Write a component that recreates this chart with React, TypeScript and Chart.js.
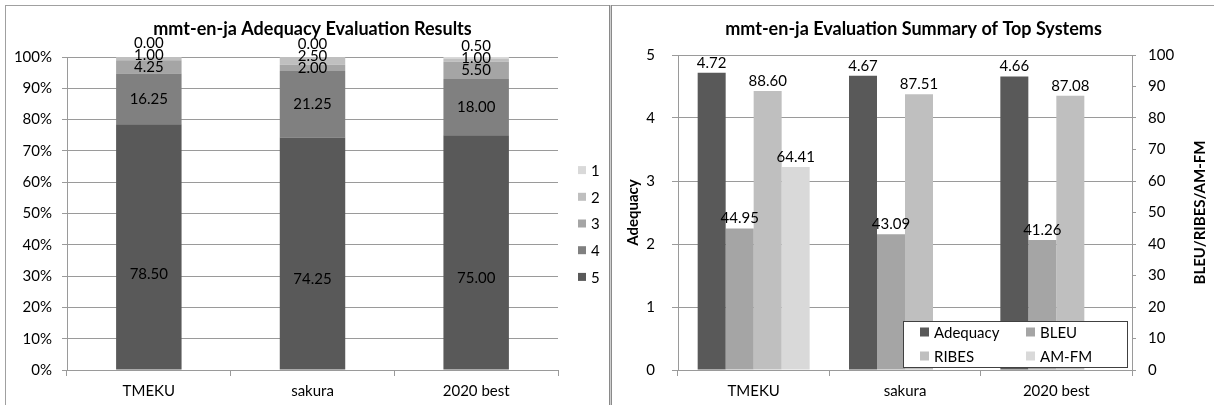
import React, { useEffect, useRef } from "react";
import { Chart, registerables } from "chart.js";

Chart.register(...registerables);

// ---------- data ----------
const systems = ["TMEKU", "sakura", "2020 best"];

// left chart: adequacy grade distribution (percent)
const grade5 = [78.5, 74.25, 75.0];
const grade4 = [16.25, 21.25, 18.0];
const grade3 = [4.25, 2.0, 5.5];
const grade2 = [1.0, 2.5, 1.0];
const grade1 = [0.0, 0.0, 0.5];
const percentTicks = [0, 10, 20, 30, 40, 50, 60, 70, 80, 90, 100];

// right chart: summary of top systems
const adequacy = [4.72, 4.67, 4.66];
const bleu = [44.95, 43.09, 41.26];
const ribes = [88.6, 87.51, 87.08];
const amfm = [64.41, null, null];
const adequacyTicks = [0, 1, 2, 3, 4, 5];
const scoreTicks = [0, 10, 20, 30, 40, 50, 60, 70, 80, 90, 100];

const leftTitle = "mmt-en-ja Adequacy Evaluation Results";
const rightTitle = "mmt-en-ja Evaluation Summary of Top Systems";

// ---------- style ----------
const FONT = "Lato, 'Open Sans', sans-serif";
const GRID = "#9a9a9a";
const C5 = "#595959";
const C4 = "#808080";
const C3 = "#a5a5a5";
const C2 = "#bfbfbf";
const C1 = "#d9d9d9";

const LW = 602;
const RW = 601;
const H = 399;

function titlePlugin(text: string, useArea: boolean) {
  return {
    id: "customTitle",
    afterDraw(chart: any) {
      const ctx = chart.ctx;
      const a = chart.chartArea;
      ctx.save();
      ctx.font = `bold 18px ${FONT}`;
      ctx.fillStyle = "#000";
      ctx.textAlign = "center";
      ctx.textBaseline = "middle";
      const x = useArea ? (a.left + a.right) / 2 : chart.width / 2;
      ctx.fillText(text, x, 23);
      ctx.restore();
    },
  };
}

const stackLabels = {
  id: "stackLabels",
  afterDatasetsDraw(chart: any) {
    const ctx = chart.ctx;
    ctx.save();
    ctx.font = `15px ${FONT}`;
    ctx.fillStyle = "#000";
    ctx.textAlign = "center";
    ctx.textBaseline = "middle";
    const n = chart.data.labels.length;
    for (let i = 0; i < n; i++) {
      let prev = Infinity;
      chart.data.datasets.forEach((ds: any, di: number) => {
        const el = chart.getDatasetMeta(di).data[i];
        if (!el) return;
        const frac = di === 0 ? 0.39 : 0.5;
        let y = el.base + (el.y - el.base) * frac;
        y = Math.min(y, prev - 12);
        prev = y;
        ctx.fillText(Number(ds.data[i]).toFixed(2), el.x, y);
      });
    }
    ctx.restore();
  },
};

const leftLegend = {
  id: "leftLegend",
  afterDraw(chart: any) {
    const ctx = chart.ctx;
    const a = chart.chartArea;
    const ds = [...chart.data.datasets].reverse();
    const step = 26.7;
    const cy = (a.top + a.bottom) / 2 + 10;
    const y0 = cy - ((ds.length - 1) * step) / 2;
    const x0 = a.right + 20;
    ctx.save();
    ctx.font = `15px ${FONT}`;
    ctx.textAlign = "left";
    ctx.textBaseline = "middle";
    ds.forEach((d: any, i: number) => {
      const y = y0 + i * step;
      ctx.fillStyle = d.backgroundColor;
      ctx.fillRect(x0, y - 4, 8, 8);
      ctx.fillStyle = "#000";
      ctx.fillText(d.label, x0 + 13, y + 1);
    });
    ctx.restore();
  },
};

const barTopLabels = {
  id: "barTopLabels",
  afterDatasetsDraw(chart: any) {
    const ctx = chart.ctx;
    ctx.save();
    ctx.font = `15px ${FONT}`;
    ctx.fillStyle = "#000";
    ctx.textAlign = "center";
    ctx.textBaseline = "alphabetic";
    chart.data.datasets.forEach((ds: any, di: number) => {
      const meta = chart.getDatasetMeta(di);
      meta.data.forEach((el: any, i: number) => {
        const v = ds.data[i];
        if (v === null || v === undefined) return;
        ctx.fillText(Number(v).toFixed(2), el.x, el.y - 5);
      });
    });
    ctx.restore();
  },
};

const rightDecor = {
  id: "rightDecor",
  afterDraw(chart: any) {
    const ctx = chart.ctx;
    const a = chart.chartArea;
    ctx.save();
    // axis titles
    ctx.font = `bold 15px ${FONT}`;
    ctx.fillStyle = "#000";
    ctx.textAlign = "center";
    ctx.textBaseline = "middle";
    const my = (a.top + a.bottom) / 2;
    ctx.save();
    ctx.translate(a.left - 45, my);
    ctx.rotate(-Math.PI / 2);
    ctx.fillText("Adequacy", 0, 0);
    ctx.restore();
    ctx.save();
    ctx.translate(a.right + 68, my);
    ctx.rotate(-Math.PI / 2);
    ctx.fillText("BLEU/RIBES/AM-FM", 0, 0);
    ctx.restore();

    // legend box
    const bw = 224;
    const bh = 46;
    const bx = a.right - 5 - bw;
    const by = a.bottom - 3 - bh;
    ctx.fillStyle = "#fff";
    ctx.fillRect(bx, by, bw, bh);
    ctx.strokeStyle = "#404040";
    ctx.lineWidth = 1;
    ctx.strokeRect(Math.round(bx) + 0.5, Math.round(by) + 0.5, bw, bh);
    ctx.font = `15px ${FONT}`;
    ctx.textAlign = "left";
    ctx.textBaseline = "middle";
    chart.data.datasets.forEach((d: any, i: number) => {
      const col = i % 2;
      const row = Math.floor(i / 2);
      const x = bx + 17 + col * 106;
      const y = by + 11 + row * 24;
      ctx.fillStyle = d.backgroundColor;
      ctx.fillRect(x, y - 4.5, 9, 9);
      ctx.fillStyle = "#000";
      ctx.fillText(d.label, x + 14, y + 1);
    });
    ctx.restore();
  },
};

function LeftChart() {
  const ref = useRef<HTMLCanvasElement | null>(null);
  useEffect(() => {
    if (!ref.current) return;
    const chart = new Chart(ref.current, {
      type: "bar",
      data: {
        labels: systems,
        datasets: [
          { label: "5", data: grade5, backgroundColor: C5 },
          { label: "4", data: grade4, backgroundColor: C4 },
          { label: "3", data: grade3, backgroundColor: C3 },
          { label: "2", data: grade2, backgroundColor: C2 },
          { label: "1", data: grade1, backgroundColor: C1 },
        ],
      },
      options: {
        responsive: false,
        animation: false,
        layout: { padding: { top: 51, right: 51, left: 0, bottom: 0 } },
        datasets: { bar: { categoryPercentage: 0.4, barPercentage: 1, borderWidth: 0 } },
        plugins: { legend: { display: false }, title: { display: false }, tooltip: { enabled: false } },
        scales: {
          x: {
            stacked: true,
            afterFit: (s: any) => { s.height = 35; },
            grid: { drawOnChartArea: false, drawTicks: true, tickLength: 6, color: GRID, offset: true },
            border: { display: true, color: GRID },
            ticks: { color: "#000", font: { family: FONT, size: 15 }, padding: 6 },
          },
          y: {
            stacked: true,
            min: 0,
            max: 100,
            afterFit: (s: any) => { s.width = 60; },
            afterBuildTicks: (s: any) => { s.ticks = percentTicks.map((v) => ({ value: v })); },
            grid: { color: GRID, tickLength: 5 },
            border: { display: true, color: GRID },
            ticks: {
              color: "#000",
              font: { family: FONT, size: 15 },
              padding: 10,
              callback: (v: any) => `${v}%`,
            },
          },
        },
      },
      plugins: [stackLabels, leftLegend, titlePlugin(leftTitle, true)],
    } as any);
    return () => chart.destroy();
  }, []);
  return <canvas ref={ref} width={LW} height={H} style={{ display: "block" }} />;
}

function RightChart() {
  const ref = useRef<HTMLCanvasElement | null>(null);
  useEffect(() => {
    if (!ref.current) return;
    const chart = new Chart(ref.current, {
      type: "bar",
      data: {
        labels: systems,
        datasets: [
          { label: "Adequacy", data: adequacy, backgroundColor: C5, yAxisID: "y" },
          { label: "BLEU", data: bleu, backgroundColor: C3, yAxisID: "y2" },
          { label: "RIBES", data: ribes, backgroundColor: C2, yAxisID: "y2" },
          { label: "AM-FM", data: amfm, backgroundColor: C1, yAxisID: "y2" },
        ],
      },
      options: {
        responsive: false,
        animation: false,
        layout: { padding: { top: 49, right: 0, left: 0, bottom: 0 } },
        datasets: { bar: { categoryPercentage: 0.74, barPercentage: 1, borderWidth: 0 } },
        plugins: { legend: { display: false }, title: { display: false }, tooltip: { enabled: false } },
        scales: {
          x: {
            afterFit: (s: any) => { s.height = 35; },
            grid: { drawOnChartArea: false, drawTicks: true, tickLength: 6, color: GRID, offset: true },
            border: { display: true, color: GRID },
            ticks: { color: "#000", font: { family: FONT, size: 15 }, padding: 6 },
          },
          y: {
            position: "left",
            min: 0,
            max: 5,
            afterFit: (s: any) => { s.width = 65; },
            afterBuildTicks: (s: any) => { s.ticks = adequacyTicks.map((v) => ({ value: v })); },
            grid: { color: GRID, tickLength: 6 },
            border: { display: true, color: GRID },
            ticks: { color: "#000", font: { family: FONT, size: 15 }, padding: 17 },
          },
          y2: {
            position: "right",
            min: 0,
            max: 100,
            afterFit: (s: any) => { s.width = 82; },
            afterBuildTicks: (s: any) => { s.ticks = scoreTicks.map((v) => ({ value: v })); },
            grid: { drawOnChartArea: false, color: GRID, tickLength: 4 },
            border: { display: true, color: GRID },
            ticks: { color: "#000", font: { family: FONT, size: 15 }, padding: 12 },
          },
        },
      },
      plugins: [barTopLabels, rightDecor, titlePlugin(rightTitle, false)],
    } as any);
    return () => chart.destroy();
  }, []);
  return <canvas ref={ref} width={RW} height={H} style={{ display: "block" }} />;
}

export default function App() {
  return (
    <div
      style={{
        position: "absolute",
        left: 0,
        top: 0,
        width: 1214,
        height: 405,
        background: "#fff",
        overflow: "hidden",
      }}
    >
      {/* frame lines */}
      <div style={{ position: "absolute", left: 5, top: 5, width: 1209, height: 1, background: "#a0a0a0" }} />
      <div style={{ position: "absolute", left: 5, top: 5, width: 1, height: 400, background: "#a0a0a0" }} />
      <div
        style={{
          position: "absolute",
          left: 609,
          top: 5,
          width: 1,
          height: 400,
          borderLeft: "1px solid #8a8a8a",
          borderRight: "1px solid #8a8a8a",
          background: "#cfcfcf",
        }}
      />
      <div style={{ position: "absolute", left: 7, top: 6 }}>
        <LeftChart />
      </div>
      <div style={{ position: "absolute", left: 613, top: 6 }}>
        <RightChart />
      </div>
    </div>
  );
}
